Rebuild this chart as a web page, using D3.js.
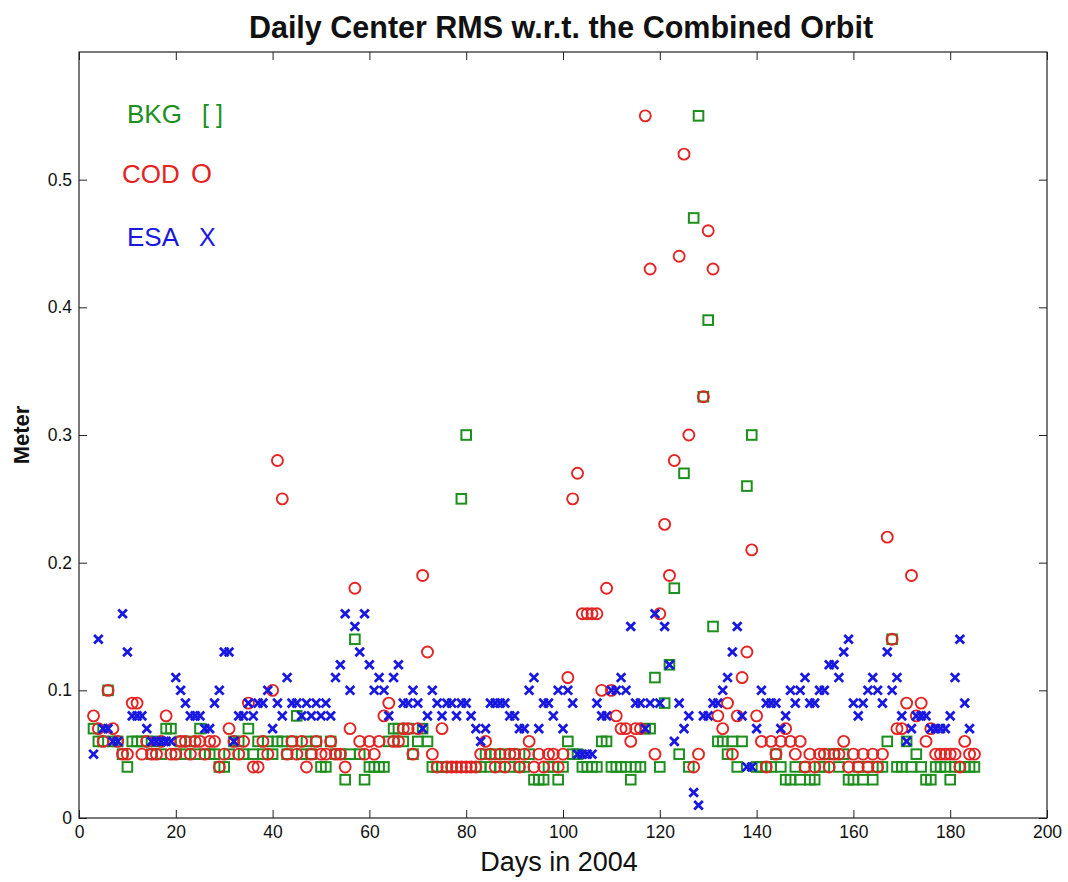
<!DOCTYPE html>
<html><head><meta charset="utf-8">
<script src="https://cdn.jsdelivr.net/npm/d3@7"></script>
<style>body{margin:0;background:#fff}</style>
</head><body>
<svg id="chart" width="1068" height="882"></svg>
<script>
// ---------------- data ----------------
const days = [
  3,4,5,6,7,8,9,10,11,12,13,14,15,16,17,18,19,20,21,22,23,24,25,26,27,28,29,30,31,32,33,34,35,36,37,38,39,40,
  41,42,43,44,45,46,47,48,49,50,51,52,53,54,55,56,57,58,59,60,61,62,63,64,65,66,67,68,69,70,71,72,73,74,75,76,77,78,79,80,
  81,82,83,84,85,86,87,88,89,90,91,92,93,94,95,96,97,98,99,100,101,102,103,104,105,106,107,108,109,110,111,112,113,114,115,116,117,118,119,120,
  121,122,123,124,125,126,127,128,129,130,131,132,133,134,135,136,137,138,139,140,141,142,143,144,145,146,147,148,149,150,151,152,153,154,155,156,157,158,159,160,
  161,162,163,164,165,166,167,168,169,170,171,172,173,174,175,176,177,178,179,180,181,182,183,184,185
];
const bkgValues = [
  0.07,0.06,0.06,0.10,0.06,0.06,0.05,0.04,0.06,0.06,0.06,0.06,0.05,0.06,0.05,0.07,0.07,0.05,0.06,0.05,0.06,0.05,0.07,0.05,0.05,0.05,0.04,0.04,0.05,0.06,0.06,0.05,0.07,0.05,0.06,0.05,0.06,0.05,
  0.06,0.06,0.05,0.06,0.08,0.05,0.06,0.05,0.06,0.04,0.04,0.06,0.05,0.05,0.03,0.05,0.14,0.05,0.03,0.04,0.04,0.04,0.04,0.06,0.07,0.07,0.06,0.07,0.05,0.06,0.07,0.06,0.04,0.04,0.04,0.04,0.04,0.04,0.25,0.30,
  0.04,0.04,0.04,0.05,0.04,0.05,0.04,0.05,0.04,0.05,0.04,0.04,0.05,0.03,0.03,0.03,0.04,0.04,0.03,0.04,0.06,0.05,0.05,0.04,0.04,0.04,0.04,0.06,0.06,0.04,0.04,0.04,0.04,0.03,0.04,0.04,0.07,0.07,0.11,0.04,
  0.09,0.12,0.18,0.05,0.27,0.04,0.47,0.55,0.33,0.39,0.15,0.06,0.06,0.05,0.06,0.04,0.06,0.26,0.30,0.04,0.04,0.04,0.04,0.05,0.04,0.03,0.03,0.04,0.03,0.04,0.03,0.03,0.04,0.04,0.05,0.05,0.04,0.05,0.03,0.03,
  0.04,0.03,0.04,0.03,0.04,0.04,0.06,0.14,0.04,0.04,0.06,0.04,0.05,0.04,0.03,0.03,0.04,0.04,0.04,0.03,0.04,0.04,0.04,0.04,0.04
];
const codValues = [
  0.08,0.07,0.06,0.10,0.07,0.06,0.05,0.05,0.09,0.09,0.05,0.06,0.05,0.05,0.06,0.08,0.05,0.05,0.06,0.06,0.05,0.06,0.06,0.05,0.06,0.06,0.04,0.05,0.07,0.06,0.05,0.06,0.09,0.04,0.04,0.06,0.05,0.10,
  0.28,0.25,0.05,0.06,0.05,0.06,0.04,0.05,0.06,0.05,0.05,0.06,0.05,0.05,0.04,0.07,0.18,0.06,0.05,0.06,0.05,0.06,0.08,0.09,0.06,0.06,0.07,0.07,0.05,0.07,0.19,0.13,0.05,0.04,0.07,0.04,0.04,0.04,0.04,0.04,
  0.04,0.04,0.05,0.06,0.05,0.04,0.05,0.04,0.05,0.05,0.04,0.05,0.06,0.04,0.05,0.04,0.05,0.05,0.04,0.05,0.11,0.25,0.27,0.16,0.16,0.16,0.16,0.10,0.18,0.10,0.08,0.07,0.07,0.06,0.07,0.07,0.55,0.43,0.05,0.16,
  0.23,0.19,0.28,0.44,0.52,0.30,0.04,0.05,0.33,0.46,0.43,0.08,0.07,0.09,0.05,0.08,0.11,0.13,0.21,0.08,0.06,0.04,0.06,0.05,0.06,0.07,0.06,0.05,0.06,0.04,0.05,0.04,0.05,0.05,0.04,0.05,0.05,0.06,0.04,0.05,
  0.04,0.05,0.04,0.05,0.04,0.05,0.22,0.14,0.07,0.07,0.09,0.19,0.08,0.09,0.06,0.07,0.05,0.05,0.05,0.05,0.05,0.04,0.06,0.05,0.05
];
const esaValues = [
  0.05,0.14,0.07,0.07,0.06,0.06,0.16,0.13,0.08,0.08,0.08,0.07,0.06,0.06,0.06,0.06,0.06,0.11,0.10,0.09,0.08,0.08,0.08,0.07,0.07,0.09,0.10,0.13,0.13,0.06,0.08,0.08,0.09,0.08,0.09,0.09,0.10,0.07,
  0.09,0.08,0.11,0.09,0.09,0.08,0.09,0.08,0.09,0.08,0.09,0.08,0.11,0.12,0.16,0.10,0.15,0.13,0.16,0.12,0.10,0.11,0.10,0.08,0.11,0.12,0.09,0.09,0.10,0.09,0.07,0.08,0.10,0.09,0.08,0.09,0.09,0.08,0.09,0.09,
  0.08,0.07,0.06,0.07,0.09,0.09,0.09,0.09,0.08,0.08,0.07,0.07,0.10,0.11,0.07,0.09,0.09,0.08,0.10,0.07,0.10,0.09,0.05,0.05,0.05,0.05,0.09,0.08,0.08,0.10,0.10,0.11,0.10,0.15,0.09,0.09,0.07,0.09,0.16,0.09,
  0.15,0.12,0.06,0.09,0.07,0.08,0.02,0.01,0.08,0.08,0.09,0.09,0.10,0.11,0.13,0.15,0.08,0.04,0.04,0.07,0.10,0.09,0.09,0.09,0.07,0.08,0.10,0.09,0.10,0.11,0.09,0.09,0.10,0.10,0.12,0.12,0.11,0.13,0.14,0.09,
  0.08,0.09,0.10,0.11,0.10,0.09,0.13,0.10,0.11,0.08,0.06,0.07,0.08,0.08,0.08,0.07,0.07,0.07,0.07,0.08,0.11,0.14,0.09,0.07,null
];
const xTickValues = [0,20,40,60,80,100,120,140,160,180,200];
const yTickValues = [0,0.1,0.2,0.3,0.4,0.5];
const legendNames = ["BKG", "COD", "ESA"];
const legendSymbols = ["[ ]", "O", "X"];
const titleText = "Daily Center RMS w.r.t. the Combined Orbit";
const xLabelText = "Days in 2004";
const yLabelText = "Meter";

// ---------------- layout ----------------
const colors = {BKG: "#1c8f1c", COD: "#e42323", ESA: "#1818e0"};
const M = {left: 79, right: 1047, top: 52, bottom: 818};
const font = "'Liberation Sans', Arial, Helvetica, sans-serif";

const svg = d3.select("#chart");
const x = d3.scaleLinear().domain([0, 200]).range([M.left, M.right]);
const y = d3.scaleLinear().domain([0, 0.6]).range([M.bottom, M.top]);

svg.append("rect").attr("width", 1068).attr("height", 882).attr("fill", "#fff");

// axes (ticks pointing inward, MATLAB-style box)
const axisColor = "#222";
const gB = svg.append("g").attr("transform", `translate(0,${M.bottom})`)
  .call(d3.axisBottom(x).tickValues(xTickValues).tickSizeInner(-8).tickSizeOuter(0).tickPadding(8).tickFormat(d3.format("d")));
const gT = svg.append("g").attr("transform", `translate(0,${M.top})`)
  .call(d3.axisTop(x).tickValues(xTickValues).tickSizeInner(-8).tickSizeOuter(0).tickFormat(""));
const gL = svg.append("g").attr("transform", `translate(${M.left},0)`)
  .call(d3.axisLeft(y).tickValues(yTickValues).tickSizeInner(-8).tickSizeOuter(0).tickPadding(7).tickFormat(d => d === 0 ? "0" : d3.format(".1f")(d)));
const gR = svg.append("g").attr("transform", `translate(${M.right},0)`)
  .call(d3.axisRight(y).tickValues(yTickValues).tickSizeInner(-8).tickSizeOuter(0).tickFormat(""));
[gB, gT, gL, gR].forEach(g => {
  g.select(".domain").remove();
  g.selectAll("line").attr("stroke", axisColor).attr("stroke-width", 1);
  g.selectAll("text").attr("fill", "#111").style("font-family", font).style("font-size", "17.5px");
});
svg.append("rect").attr("x", M.left).attr("y", M.top)
  .attr("width", M.right - M.left).attr("height", M.bottom - M.top)
  .attr("fill", "none").attr("stroke", axisColor).attr("stroke-width", 1.2);

// data rows
const rows = (vals) => days.map((d, i) => ({day: d, v: vals[i]})).filter(r => r.v != null);
const plot = svg.append("g");

// BKG squares
plot.append("g").selectAll("rect").data(rows(bkgValues)).join("rect")
  .attr("x", d => x(d.day) - 4.8).attr("y", d => y(d.v) - 4.8)
  .attr("width", 9.6).attr("height", 9.6)
  .attr("fill", "none").attr("stroke", colors.BKG).attr("stroke-width", 2);

// COD circles
plot.append("g").selectAll("circle").data(rows(codValues)).join("circle")
  .attr("cx", d => x(d.day)).attr("cy", d => y(d.v)).attr("r", 5.5)
  .attr("fill", "none").attr("stroke", colors.COD).attr("stroke-width", 1.9);

// ESA crosses
const s = 4.3;
plot.append("g").selectAll("path").data(rows(esaValues)).join("path")
  .attr("d", d => `M${x(d.day)-s},${y(d.v)-s}L${x(d.day)+s},${y(d.v)+s}M${x(d.day)-s},${y(d.v)+s}L${x(d.day)+s},${y(d.v)-s}`)
  .attr("stroke", colors.ESA).attr("stroke-width", 2.8).attr("fill", "none");

// title & labels
svg.append("text").attr("x", 561).attr("y", 38).attr("text-anchor", "middle")
  .style("font-family", font).style("font-size", "30.5px").style("font-weight", "bold").attr("fill", "#111")
  .text(titleText);
svg.append("text").attr("x", 559).attr("y", 871).attr("text-anchor", "middle")
  .style("font-family", font).style("font-size", "27px").attr("fill", "#111")
  .text(xLabelText);
svg.append("text").attr("transform", "translate(29,435) rotate(-90)").attr("text-anchor", "middle")
  .style("font-family", font).style("font-size", "22px").style("font-weight", "bold").attr("fill", "#111")
  .text(yLabelText);

// legend (coloured text)
const legendX = [127, 122, 127];
const legendY = [123, 183, 246];
const symX = [202, 191, 199];
legendNames.forEach((n, i) => {
  const t = svg.append("text").attr("y", legendY[i]).style("font-family", font).attr("fill", colors[n]);
  t.append("tspan").attr("x", legendX[i]).style("font-size", "26px").text(n);
  t.append("tspan").attr("x", symX[i]).style("font-size", i === 1 ? "27px" : "25px").text(legendSymbols[i]);
});
</script>
</body></html>
